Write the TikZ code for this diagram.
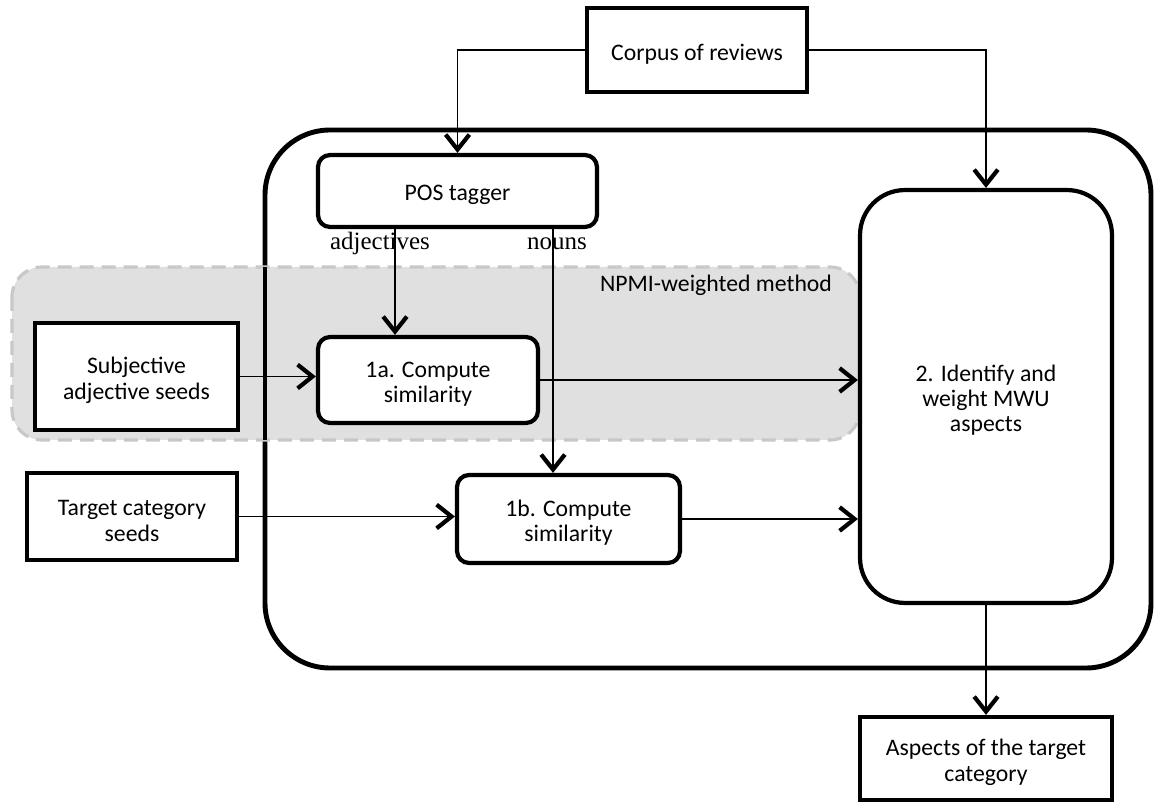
\documentclass[tikz,border=0pt]{standalone}
\usepackage{fontspec}
\setmainfont{Carlito}
\newfontfamily\labelfont{Liberation Serif}
\usetikzlibrary{arrows.meta}
\definecolor{panelgray}{HTML}{E0E0E0}
\definecolor{dashgray}{HTML}{C8C8C8}
% a tall strut that lowers box text a little
\newcommand\tsp{\rule{0pt}{13.6pt}}
\begin{document}
\begin{tikzpicture}[x=0.02cm,y=-0.02cm,
  txt/.style={font=\fontsize{13.5}{14.4}\selectfont, align=center},
  sqbox/.style={txt, draw, line width=2.4pt, fill=white, inner sep=0pt},
  rbox/.style={sqbox, rounded corners=0.24cm},
  conn/.style={line width=1.1pt, -{Straight Barb[length=8.5pt,width=13.5pt,line width=2.4pt]}},
  lbl/.style={font=\labelfont\fontsize{14.2}{16}\selectfont}]
\useasboundingbox (0,0) rectangle (1156,803);
\fill[white] (0,0) rectangle (1156,803);

% the pipeline frame and the NPMI panel behind it
\draw[line width=2.8pt, rounded corners=1.3cm] (265,130) rectangle (1151,668);
\draw[dashgray, fill=panelgray, line width=1.8pt, dash pattern=on 0.28cm off 0.16cm, rounded corners=0.6cm]
  (12,267) rectangle (860,440);
\draw[line width=2.8pt] (265,267) -- (265,440);
\node[txt] (npmi) at (716,285) {NPMI-weighted method};

% boxes
\node[sqbox, minimum width=4.4cm, minimum height=1.68cm] (corpus) at (697,50) {\tsp Corpus of reviews};
\node[rbox, minimum width=5.58cm, minimum height=1.44cm] (pos) at (457.5,191) {\tsp POS tagger};
\node[sqbox, minimum width=4.06cm, minimum height=2.14cm] (subj) at (136.5,376.5) {\tsp Subjective\\adjective seeds};
\node[rbox, minimum width=4.4cm, minimum height=1.72cm] (sima) at (428,380) {\tsp 1a. Compute\\similarity};
\node[sqbox, minimum width=4.2cm, minimum height=1.74cm] (tgt) at (132,516.5) {\tsp Target category\\seeds};
\node[rbox, minimum width=4.46cm, minimum height=1.76cm] (simb) at (568.5,519) {\tsp 1b. Compute\\similarity};
\node[sqbox, rounded corners=0.9cm, minimum width=5.04cm, minimum height=8.26cm] (mwu) at (986,396.5) {\tsp 2. Identify and\\weight MWU\\aspects};
\node[sqbox, minimum width=5.04cm, minimum height=1.66cm] (asp) at (986,758.5) {\tsp Aspects of the target\\category};

% tagger outputs
\coordinate (adjx) at (395,0);
\coordinate (nounx) at (553,0);
\node[lbl] (adjlbl) at (380,244) {adjectives};
\node[lbl] (nounlbl) at (557,244) {nouns};

% connectors
\draw[conn] (corpus.west) -| (pos.north);
\draw[conn] (corpus.east) -| (mwu.north);
\draw[conn] (pos.south -| adjx) -- (sima.north -| adjx);
\draw[conn] (pos.south -| nounx) -- (simb.north -| nounx);
\draw[conn] (subj.east) -- (subj.east -| sima.west);
\draw[conn] (sima.east) -- (sima.east -| mwu.west);
\draw[conn] (tgt.east) -- (tgt.east -| simb.west);
\draw[conn] (simb.east) -- (simb.east -| mwu.west);
\draw[conn] (mwu.south) -- (asp.north);
\end{tikzpicture}
\end{document}
